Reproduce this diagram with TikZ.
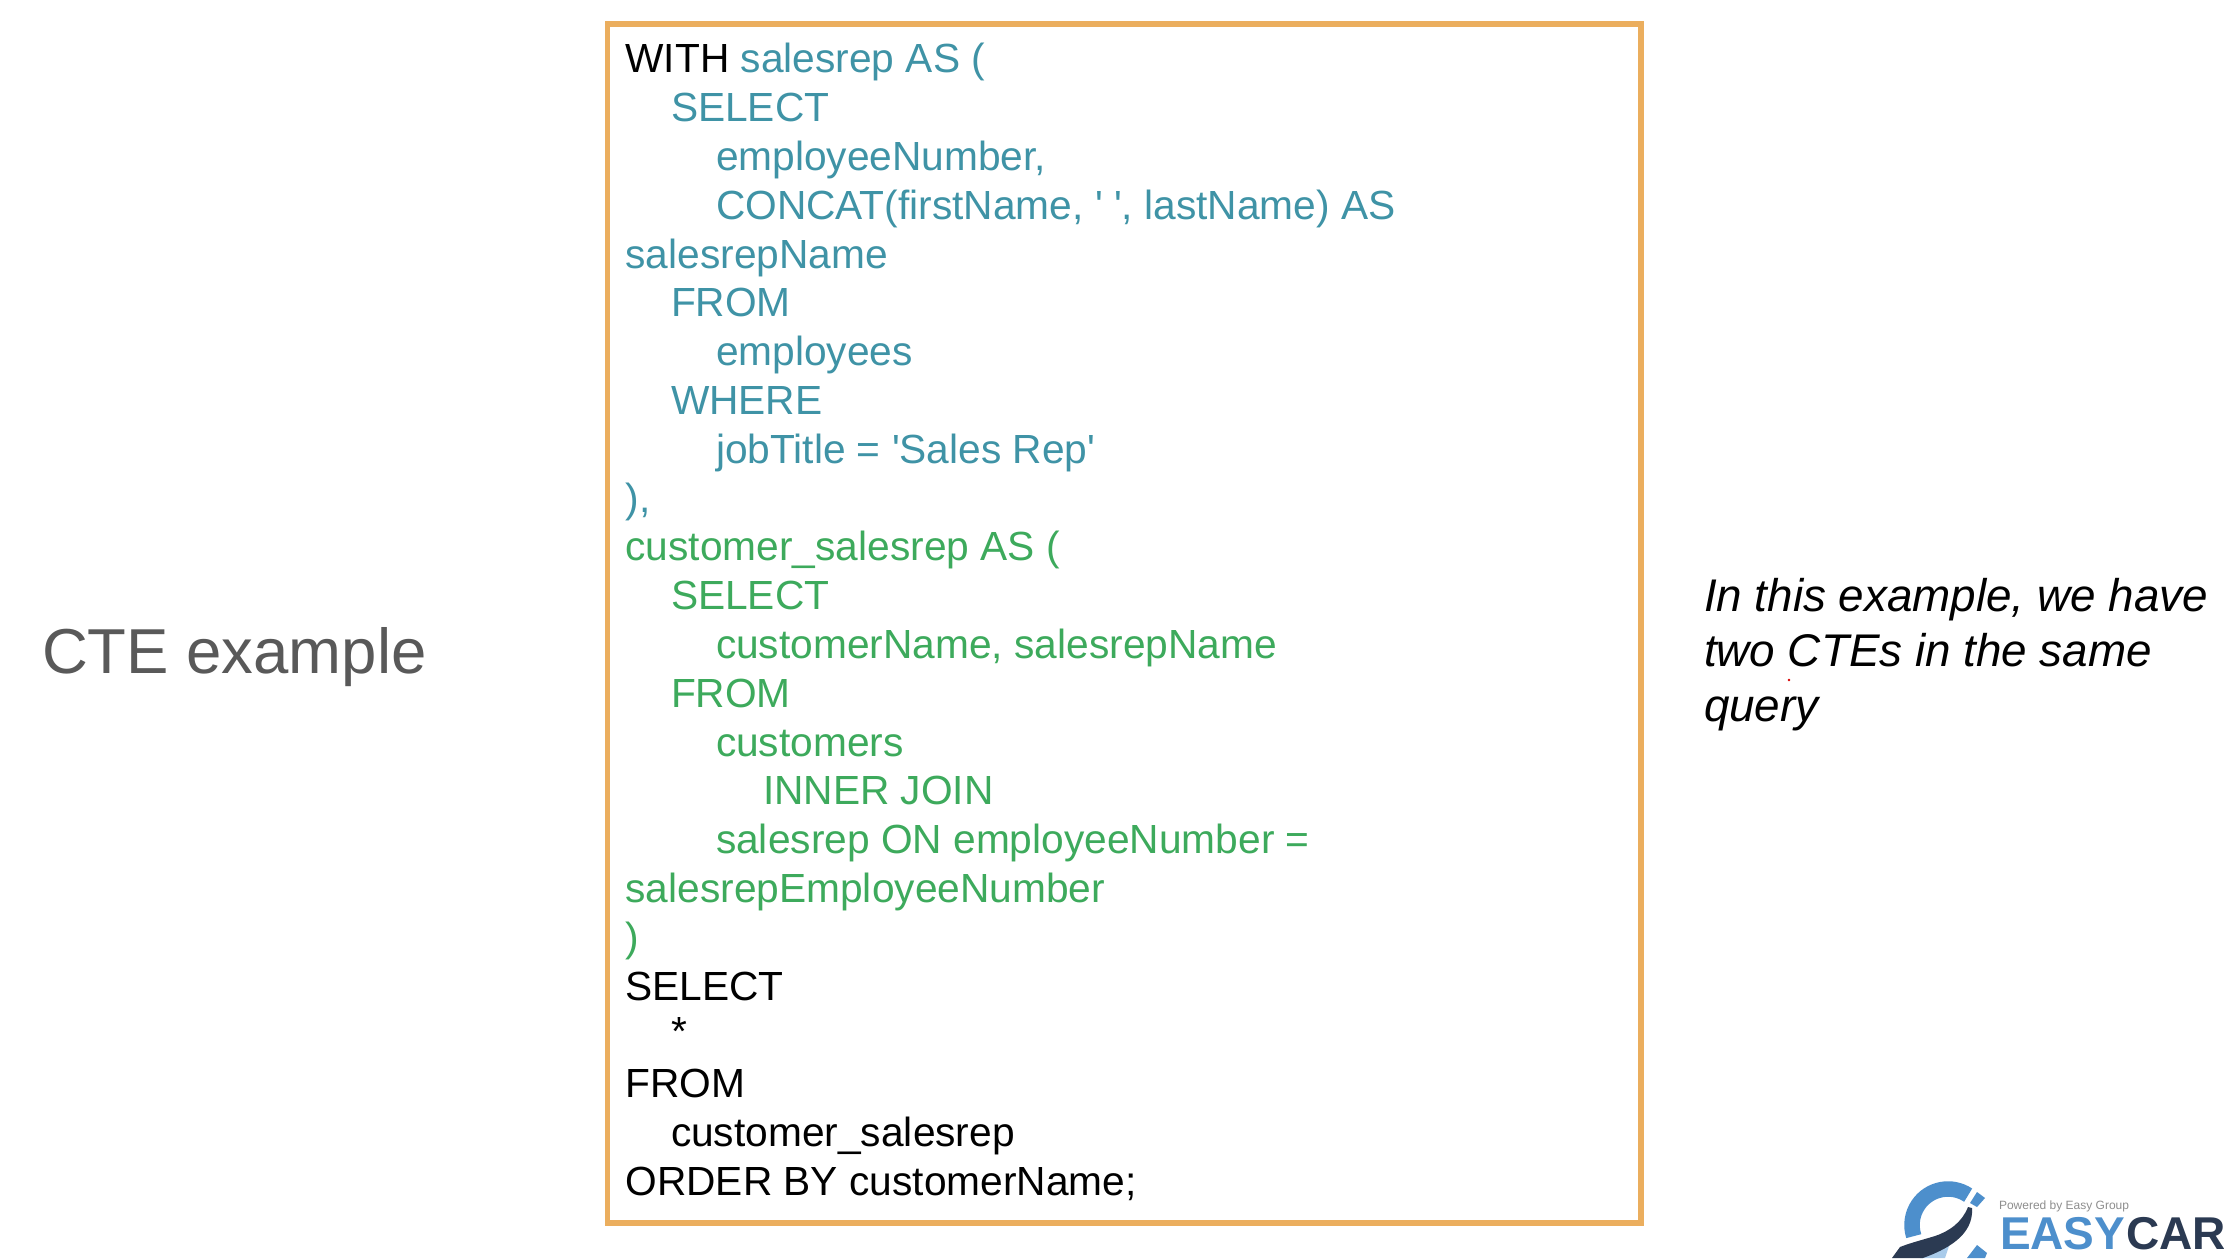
\documentclass[tikz,border=0pt]{standalone}
\usepackage{fontspec}
\newfontfamily\arial{Liberation Sans}
\definecolor{tealtxt}{HTML}{3F93A6}
\definecolor{greentxt}{HTML}{3DAA5C}
\definecolor{framecol}{HTML}{EBAE5E}
\definecolor{titlecol}{HTML}{595959}
\definecolor{logoblue}{HTML}{4D8FCC}
\definecolor{logodark}{HTML}{2B3A52}
\definecolor{logolight}{HTML}{A9CBEA}
\definecolor{logogrey}{HTML}{8E8E8E}
\tikzset{
  base/.style={anchor=base west,inner sep=0pt,outer sep=0pt},
  code/.style={base,yshift=-0.8pt,font=\arial\fontsize{40.7}{48}\selectfont},
  blk/.style={code,text=black},
  cteone/.style={code,text=tealtxt},
  ctetwo/.style={code,text=greentxt},
  frame/.style={draw=framecol,line width=5.5pt,rectangle,minimum width=1033.5pt,minimum height=1199pt,inner sep=0pt},
  title/.style={base,text=titlecol,font=\arial\fontsize{63.5}{70}\selectfont},
  note/.style={base,text=black,font=\arial\itshape\fontsize{45.8}{50}\selectfont},
  logotxt/.style={base,font=\arial\bfseries\fontsize{46}{50}\selectfont},
  logosmall/.style={base,text=logogrey,font=\arial\fontsize{12}{14}\selectfont},
}
\begin{document}
\begin{tikzpicture}[x=1pt,y=-1pt]
\useasboundingbox (0,0) rectangle (2224,1258);
\clip (0,0) rectangle (2224,1258);
\fill[white] (0,0) rectangle (2224,1258);
\node[frame] (box) at (1124.25,623.5) {};
\node[title] (cte) at (42,673) {CTE example};
\node[blk] (l0) at (625.5,72) {WITH \textcolor{tealtxt}{salesrep AS (}};
\node[cteone] (l1) at (671,120.8) {SELECT};
\node[cteone] (l2) at (716,169.6) {employeeNumber,};
\node[cteone] (l3) at (716,218.4) {CONCAT(firstName, ' ', lastName) AS};
\node[cteone] (l4) at (625.5,267.2) {salesrepName};
\node[cteone] (l5) at (671,316) {FROM};
\node[cteone] (l6) at (716,364.8) {employees};
\node[cteone] (l7) at (671,413.6) {WHERE};
\node[cteone] (l8) at (716,462.4) {jobTitle = 'Sales Rep'};
\node[cteone] (l9) at (625.5,511.2) {),};
\node[ctetwo] (l10) at (625.5,560) {customer\_salesrep AS (};
\node[ctetwo] (l11) at (671,608.8) {SELECT};
\node[ctetwo] (l12) at (716,657.6) {customerName, salesrepName};
\node[ctetwo] (l13) at (671,706.4) {FROM};
\node[ctetwo] (l14) at (716,755.2) {customers};
\node[ctetwo] (l15) at (763,804) {INNER JOIN};
\node[ctetwo] (l16) at (716,852.8) {salesrep ON employeeNumber =};
\node[ctetwo] (l17) at (625.5,901.6) {salesrepEmployeeNumber};
\node[ctetwo] (l18) at (625.5,950.4) {)};
\node[blk] (l19) at (625.5,999.2) {SELECT};
\node[blk] (l20) at (671,1045) {*};
\node[blk] (l21) at (625.5,1096.8) {FROM};
\node[blk] (l22) at (671,1145.6) {customer\_salesrep};
\node[blk] (l23) at (625.5,1194.4) {ORDER BY customerName;};
\node[note] (n1) at (1704,611) {In this example, we have};
\node[note] (n2) at (1704,666) {two CTEs in the same};
\node[note] (n3) at (1704,721) {query};
\fill[red!85!black] (1789,680) circle (1.4pt);
% logo
\draw[logoblue,line width=15.5pt] (1948,1225) ++(-56:36) arc (-56:-198:36);
\fill[logoblue] (1967,1258) -- (1977,1245) -- (1987,1253) -- (1985,1258) -- cycle;
\fill[logoblue] (1977,1192) -- (1985,1198) -- (1977,1207) -- (1970,1203) -- cycle;
\fill[logolight] (1920,1258) -- (1950,1243) -- (1945,1258) -- cycle;
\fill[logodark] (1968,1207) .. controls (1962,1222) and (1950,1231) .. (1935,1236)
  .. controls (1922,1240) and (1910,1243) .. (1900,1247) -- (1892,1258) -- (1923,1258)
  .. controls (1945,1250) and (1974,1236) .. (1972,1208) -- cycle;
\node[logosmall] (pw) at (1999,1209) {Powered by Easy Group};
\node[logotxt,text=logoblue] (easy) at (2000,1249) {EASY};
\node[logotxt,text=logodark] (car) at (2126,1249) {CAR};
\end{tikzpicture}
\end{document}
